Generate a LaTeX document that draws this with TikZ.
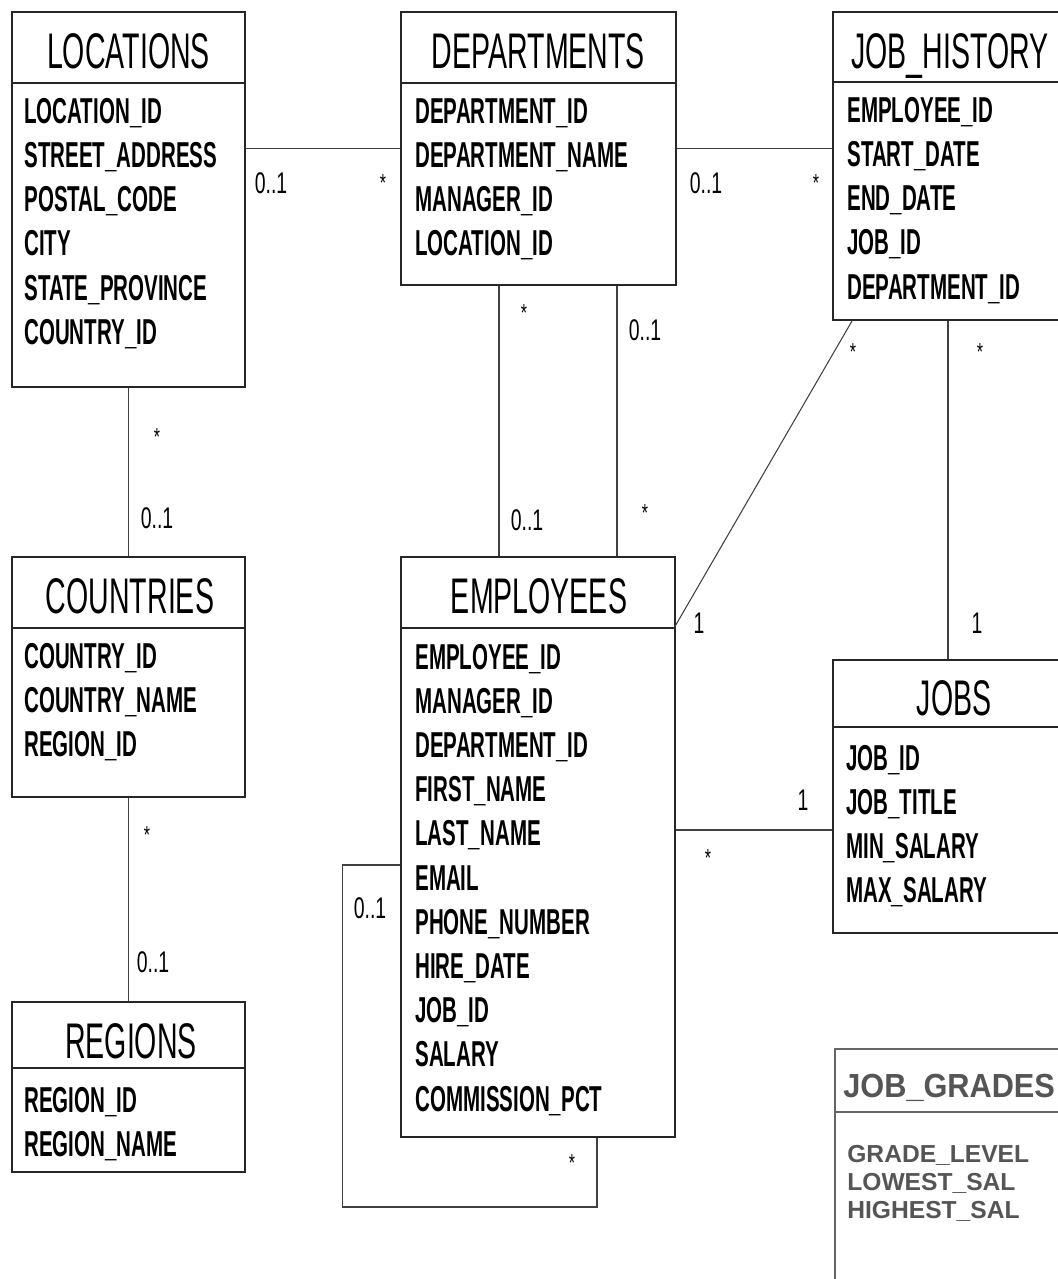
\documentclass[tikz,border=0pt]{standalone}
\usepackage{fontspec}
\usepackage{tikz}
\usetikzlibrary{fit}
\usetikzlibrary{positioning}
\newfontfamily\erdfont[FakeStretch=0.57]{Liberation Sans}
\newfontfamily\multfont[FakeStretch=0.65]{Liberation Sans}
\newfontfamily\gradefont[FakeStretch=0.92]{Liberation Sans}
\newfontfamily\gradeattrfont{Liberation Sans}
\definecolor{gradegray}{HTML}{555555}

\begin{document}
\begin{tikzpicture}[
        x=0.02cm, y=-0.02cm,
        entity/.style={draw=black!85, line width=1.1pt, inner sep=0pt},
        hdrline/.style={draw=black!85, line width=1.1pt},
        title/.style={font=\erdfont\fontsize{28.5}{30}\selectfont, anchor=base, inner sep=0pt},
        attr/.style={font=\erdfont\bfseries\fontsize{20.5}{24}\selectfont, anchor=base west, inner sep=0pt},
        mult/.style={font=\multfont\fontsize{17}{18}\selectfont, inner sep=0pt},
        star/.style={font=\multfont\fontsize{14}{15}\selectfont, inner sep=0pt},
        link/.style={draw=black!75, line width=0.6pt},
        grade/.style={draw=black!60, line width=1.1pt, inner sep=0pt},
        gradetitle/.style={font=\gradefont\bfseries\fontsize{19}{20}\selectfont, text=gradegray, anchor=base west, inner sep=0pt},
        gradeattr/.style={font=\gradeattrfont\bfseries\fontsize{14}{15}\selectfont, text=gradegray, anchor=base west, inner sep=0pt}
        ]
    \useasboundingbox (0,0) rectangle (1058,1279);
    \clip (0,0) rectangle (1058,1279);

    % tables
    \node[entity, fit={(12,12) (245,387)}] (loc) {};
    \draw[hdrline] (loc.north west) ++(0,72) -- ++(233,0);
    \node[title] (loc-t) at (128.5,68) {LOCATIONS};
    \foreach \f [count=\i from 0] in {LOCATION\_ID, STREET\_ADDRESS, POSTAL\_CODE, CITY, STATE\_PROVINCE, COUNTRY\_ID}
        \node[attr] (loc-\i) at (24,{123+44.3*\i}) {\f};

    \node[entity, fit={(401,12) (676,285)}] (dep) {};
    \draw[hdrline] (dep.north west) ++(0,72) -- ++(275,0);
    \node[title] (dep-t) at (538.5,68) {DEPARTMENTS};
    \foreach \f [count=\i from 0] in {DEPARTMENT\_ID, DEPARTMENT\_NAME, MANAGER\_ID, LOCATION\_ID}
        \node[attr] (dep-\i) at (415,{123+44.3*\i}) {\f};

    \node[entity, fit={(833,12) (1063,320)}] (jh) {};
    \draw[hdrline] (jh.north west) ++(0,71) -- ++(230,0);
    \node[title] (jh-t) at (950,68) {JOB\_HISTORY};
    \foreach \f [count=\i from 0] in {EMPLOYEE\_ID, START\_DATE, END\_DATE, JOB\_ID, DEPARTMENT\_ID}
        \node[attr] (jh-\i) at (847,{122+44.3*\i}) {\f};

    \node[entity, fit={(12,557) (245,797)}] (cty) {};
    \draw[hdrline] (cty.north west) ++(0,72) -- ++(233,0);
    \node[title] (cty-t) at (130,613) {COUNTRIES};
    \foreach \f [count=\i from 0] in {COUNTRY\_ID, COUNTRY\_NAME, REGION\_ID}
        \node[attr] (cty-\i) at (24,{668+44.3*\i}) {\f};

    \node[entity, fit={(401,557) (675,1137)}] (emp) {};
    \draw[hdrline] (emp.north west) ++(0,72) -- ++(274,0) coordinate (emp-hr);
    \node[title] (emp-t) at (539,613) {EMPLOYEES};
    \foreach \f [count=\i from 0] in {EMPLOYEE\_ID, MANAGER\_ID, DEPARTMENT\_ID, FIRST\_NAME, LAST\_NAME, EMAIL, PHONE\_NUMBER, HIRE\_DATE, JOB\_ID, SALARY, COMMISSION\_PCT}
        \node[attr] (emp-\i) at (415,{669+44.2*\i}) {\f};

    \node[entity, fit={(833,660) (1063,933)}] (jobs) {};
    \draw[hdrline] (jobs.north west) ++(0,68) -- ++(230,0);
    \node[title] (jobs-t) at (954,715) {JOBS};
    \foreach \f [count=\i from 0] in {JOB\_ID, JOB\_TITLE, MIN\_SALARY, MAX\_SALARY}
        \node[attr] (jobs-\i) at (846,{770+44.3*\i}) {\f};

    \node[entity, fit={(12,1002) (245,1172)}] (reg) {};
    \draw[hdrline] (reg.north west) ++(0,67) -- ++(233,0);
    \node[title] (reg-t) at (131,1058) {REGIONS};
    \foreach \f [count=\i from 0] in {REGION\_ID, REGION\_NAME}
        \node[attr] (reg-\i) at (24,{1112+44.5*\i}) {\f};

    % job grades, drawn in another style
    \node[grade, fit={(835,1049) (1063,1300)}] (grd) {};
    \draw[grade] (grd.north west) ++(0,64) -- ++(228,0);
    \node[gradetitle] (grd-t) at (843,1097) {JOB\_GRADES};
    \foreach \f [count=\i from 0] in {GRADE\_LEVEL, LOWEST\_SAL, HIGHEST\_SAL}
        \node[gradeattr] (grd-\i) at (847,{1162+28*\i}) {\f};

    % relations
    \draw[link] (loc.east |- dep.west) -- (dep.west);
    \draw[link] (dep.east) -- (dep.east -| jh.west);
    \draw[link] (loc.south) -- (cty.north);
    \draw[link] (cty.south) -- (reg.north);
    \draw[link] (dep.south -| 499,0) -- (emp.north -| 499,0);
    \draw[link] (dep.south -| 617,0) -- (emp.north -| 617,0);
    \draw[link] (jh.south -| 852,0) -- (emp-hr);
    \draw[link] (jh.south) -- (jobs.north);
    \draw[link] (emp.east |- 0,830) -- (jobs.west |- 0,830);
    \draw[link] (emp.west |- 0,865) -- ++(-58,0) |- (597,1207) -- (emp.south -| 597,0);

    % multiplicities
    \node[mult] (m-ld1) at (271,183) {0..1};
    \node[star] (m-ld2) at (383,183) {*};
    \node[mult] (m-dj1) at (706,183) {0..1};
    \node[star] (m-dj2) at (816,183) {*};
    \node[star] (m-lc1) at (157,437) {*};
    \node[mult] (m-lc2) at (157,518) {0..1};
    \node[star] (m-cr1) at (147,835) {*};
    \node[mult] (m-cr2) at (153,962) {0..1};
    \node[star] (m-de1) at (524,313) {*};
    \node[mult] (m-de2) at (527,520) {0..1};
    \node[mult] (m-de3) at (645,330) {0..1};
    \node[star] (m-de4) at (645,513) {*};
    \node[star] (m-je1) at (853,352) {*};
    \node[mult] (m-je2) at (699,623) {1};
    \node[star] (m-jj1) at (980,352) {*};
    \node[mult] (m-jj2) at (977,623) {1};
    \node[mult] (m-ej1) at (803,800) {1};
    \node[star] (m-ej2) at (708,858) {*};
    \node[mult] (m-ee1) at (370,908) {0..1};
    \node[star] (m-ee2) at (572,1163) {*};
\end{tikzpicture}
\end{document}
